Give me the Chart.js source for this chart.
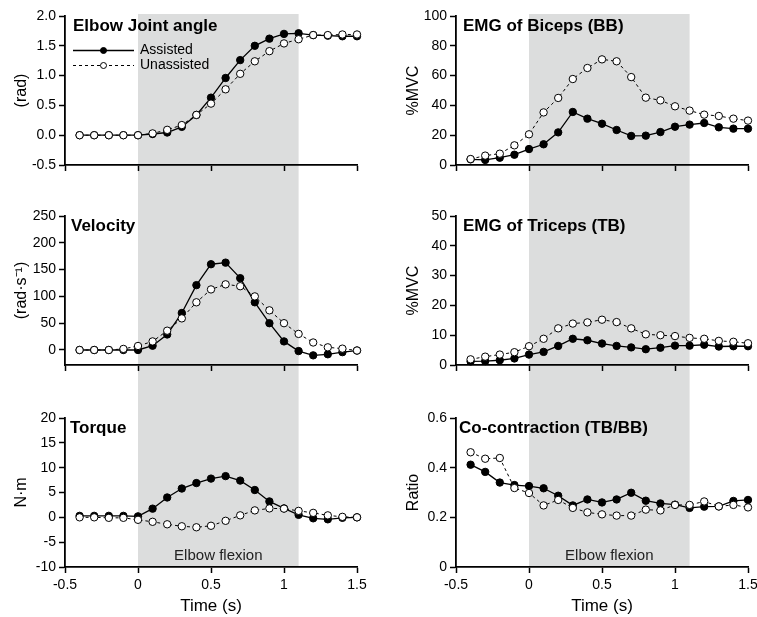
<!DOCTYPE html>
<html><head><meta charset="utf-8">
<script src="https://cdn.jsdelivr.net/npm/chart.js@4.4.1/dist/chart.umd.min.js"></script>
<style>
html,body{margin:0;padding:0;background:#fff;width:757px;height:617px;overflow:hidden;}
canvas{position:absolute;display:block;}
</style></head><body>
<canvas id="p1" width="378" height="200" style="left:0;top:0"></canvas>
<canvas id="p2" width="379" height="200" style="left:378px;top:0"></canvas>
<canvas id="p3" width="378" height="200" style="left:0;top:200px"></canvas>
<canvas id="p4" width="379" height="200" style="left:378px;top:200px"></canvas>
<canvas id="p5" width="378" height="217" style="left:0;top:400px"></canvas>
<canvas id="p6" width="379" height="217" style="left:378px;top:400px"></canvas>
<script>
// ---------- data ----------
const time = [-0.4,-0.3,-0.2,-0.1,0,0.1,0.2,0.3,0.4,0.5,0.6,0.7,0.8,0.9,1.0,1.1,1.2,1.3,1.4,1.5];
const flexionWindow = [0, 1.1];

const angleAssisted   = [0,0,0,0,0,0.02,0.045,0.14,0.34,0.63,0.96,1.26,1.50,1.62,1.70,1.71,1.68,1.67,1.66,1.66];
const angleUnassisted = [0,0,0,0,0,0.03,0.09,0.17,0.34,0.53,0.77,1.03,1.24,1.41,1.54,1.61,1.68,1.68,1.69,1.69];

const velocityAssisted   = [0,0,0,0,0,8,29,69,121,160,163,134,89,50,16,-2,-10,-8,-4,-1];
const velocityUnassisted = [0,0,0,2,7.5,16,36,59,89,113,122.5,119,100,74,50,30,14,5,2.5,-1];

const torqueAssisted   = [0.3,0.3,0.3,0.3,0.2,1.75,4.0,5.8,6.9,7.8,8.3,7.4,5.5,3.2,1.8,0.5,-0.2,-0.4,-0.1,0];
const torqueUnassisted = [0,0,-0.1,-0.1,-0.5,-0.9,-1.4,-1.8,-2.0,-1.7,-0.7,0.4,1.4,1.8,1.75,1.3,0.9,0.4,0.1,0];

const bbAssisted   = [3.8,3.4,4.9,6.9,10.7,13.9,21.9,35.6,31.1,27.7,23.5,19.5,19.7,22.1,25.7,27.1,28.2,25.3,24.4,24.4];
const bbUnassisted = [4.0,6.3,7.6,13.2,20.6,35.3,45,57.7,65.1,70.9,69.6,59,45.2,43.4,39.4,36.5,33.8,32.9,31.1,29.8];

const tbAssisted   = [1.2,1.3,1.6,2.2,3.5,4.4,6.4,8.8,8.3,7.2,6.4,5.9,5.3,5.8,6.5,6.5,6.8,6.2,6.3,6.3];
const tbUnassisted = [1.9,2.8,3.5,4.3,6.3,8.8,12.3,13.9,14.3,15.2,14.4,12.3,10.3,10.0,9.7,9.1,8.8,8.1,7.8,7.3];

const ratioAssisted   = [0.412,0.383,0.340,0.330,0.326,0.317,0.287,0.248,0.272,0.260,0.272,0.299,0.267,0.256,0.251,0.238,0.243,0.244,0.266,0.270];
const ratioUnassisted = [0.462,0.436,0.439,0.318,0.298,0.248,0.270,0.238,0.220,0.212,0.207,0.207,0.231,0.228,0.250,0.250,0.264,0.244,0.250,0.240];

// ticks
const timeTicks = [-0.5,0,0.5,1,1.5];
const timeTickLabels = ['-0.5','0','0.5','1','1.5'];
const angleTicks = [-0.5,0,0.5,1,1.5,2];
const angleTickLabels = ['-0.5','0.0','0.5','1.0','1.5','2.0'];
const velocityTicks = [0,50,100,150,200,250];
const velocityTickLabels = ['0','50','100','150','200','250'];
const torqueTicks = [-10,-5,0,5,10,15,20];
const torqueTickLabels = ['-10','-5','0','5','10','15','20'];
const bbTicks = [0,20,40,60,80,100];
const bbTickLabels = ['0','20','40','60','80','100'];
const tbTicks = [0,10,20,30,40,50];
const tbTickLabels = ['0','10','20','30','40','50'];
const ratioTicks = [0,0.2,0.4,0.6];
const ratioTickLabels = ['0','0.2','0.4','0.6'];

// ---------- drawing ----------
const FONT = "'Liberation Sans', Arial, sans-serif";
Chart.defaults.font.family = FONT;
Chart.defaults.color = '#000';

const decor = {
  id: 'decor',
  beforeDraw(chart, args, o) {
    const {ctx, chartArea, scales} = chart;
    const x0 = scales.x.getPixelForValue(flexionWindow[0]);
    const x1 = scales.x.getPixelForValue(flexionWindow[1]);
    const top = o.shadeTop === 'area' ? chartArea.top - 2 : 0;
    const bottom = o.shadeBottom === 'area' ? chartArea.bottom : chart.height;
    ctx.save();
    ctx.fillStyle = '#dcdddd';
    ctx.fillRect(x0, top, x1 - x0, bottom - top);
    ctx.restore();
  },
  afterDraw(chart, args, o) {
    const {ctx, chartArea, scales} = chart;
    ctx.save();
    ctx.fillStyle = '#000';
    ctx.font = "bold 17px " + FONT;
    ctx.textBaseline = 'middle';
    ctx.textAlign = 'left';
    ctx.fillText(o.title, chartArea.left + o.titleDx, chartArea.top + 10.5);
    if (o.flexLabel) {
      ctx.font = "15px " + FONT;
      ctx.fillStyle = '#222';
      ctx.textAlign = 'center';
      const xc = (scales.x.getPixelForValue(flexionWindow[0]) + scales.x.getPixelForValue(flexionWindow[1])) / 2;
      ctx.fillText('Elbow flexion', xc, chartArea.bottom - 11);
    }
    if (o.legend) {
      const items = [
        {label:'Assisted', dash:[], fill:'#000', y:50.5, w:1.3},
        {label:'Unassisted', dash:[3,3], fill:'#fff', y:65.5, w:1}
      ];
      const lx0 = chartArea.left + 8, lx1 = chartArea.left + 69, mx = chartArea.left + 38.5;
      items.forEach(it => {
        ctx.strokeStyle = '#000';
        ctx.lineWidth = it.w;
        ctx.setLineDash(it.dash);
        ctx.beginPath(); ctx.moveTo(lx0, it.y); ctx.lineTo(lx1, it.y); ctx.stroke();
        ctx.setLineDash([]);
        ctx.lineWidth = 1;
        ctx.fillStyle = it.fill;
        ctx.beginPath(); ctx.arc(mx, it.y, 3, 0, Math.PI*2); ctx.fill(); ctx.stroke();
        ctx.fillStyle = '#000';
        ctx.font = "14px " + FONT;
        ctx.textAlign = 'left';
        ctx.fillText(it.label, chartArea.left + 75, it.y);
      });
    }
    ctx.restore();
  }
};

function panel(id, p) {
  const mk = (vals) => time.map((t, i) => ({x: t, y: vals[i]}));
  return new Chart(document.getElementById(id), {
    type: 'line',
    data: {
      datasets: [
        {label:'Unassisted', data: mk(p.un), borderColor:'#000', borderWidth:1, borderDash:[3,3],
         pointRadius:3.7, pointBackgroundColor:'#fff', pointBorderColor:'#000', pointBorderWidth:1, clip:false, tension:0},
        {label:'Assisted', data: mk(p.as), borderColor:'#000', borderWidth:1.3,
         pointRadius:3.7, pointBackgroundColor:'#000', pointBorderColor:'#000', pointBorderWidth:1, clip:false, tension:0}
      ]
    },
    options: {
      responsive: false, animation: false, events: [],
      layout: {padding: {top: p.padTop, right: p.padRight, left: 0, bottom: 0}},
      plugins: {
        legend: {display:false}, tooltip: {enabled:false},
        decor: {title: p.title, titleDx: p.titleDx, shadeTop: p.shadeTop, shadeBottom: p.shadeBottom, flexLabel: p.flexLabel, legend: p.legend}
      },
      scales: {
        x: {
          type:'linear', min:-0.5, max:1.5,
          afterBuildTicks: s => { s.ticks = timeTicks.map(v => ({value:v})); },
          afterFit: s => { s.height = p.xH; s.paddingLeft = 0; s.paddingRight = 0; },
          grid: {drawOnChartArea:false, drawTicks:true, tickLength:6, tickWidth:1.5, color:'#000'},
          border: {display:true, color:'#000', width:1.8},
          ticks: {callback: (v, i) => p.showX ? timeTickLabels[i] : '', font:{size:14}, color:'#000', padding:4, maxRotation:0, autoSkip:false},
          title: {display: p.showX, text:'Time (s)', font:{size:17}, color:'#000', padding:{top:0, bottom:0}}
        },
        y: {
          type:'linear', min:p.ymin, max:p.ymax,
          afterBuildTicks: s => { s.ticks = p.ticks.map(v => ({value:v})); },
          afterFit: s => { s.width = p.yW; s.paddingTop = 0; s.paddingBottom = 0; },
          grid: {drawOnChartArea:false, drawTicks:true, tickLength:6, tickWidth:1.5, color:'#000'},
          border: {display:true, color:'#000', width:1.8},
          ticks: {callback: (v, i) => p.tickLabels[i], font:{size:14}, color:'#000', padding:3, autoSkip:false},
          title: {display:true, text:p.yTitle, font:{size:16}, color:'#000', padding:{top:p.yTitlePad, bottom:0}}
        }
      }
    },
    plugins: [decor]
  });
}

const L = {yW:65, padRight:21, yTitlePad:12};
const R = {yW:78, padRight:9, yTitlePad:25.5};
const row1 = {padTop:16, xH:35, shadeTop:'area', shadeBottom:'canvas', showX:false};
const row2 = {padTop:16, xH:35, shadeTop:'canvas', shadeBottom:'canvas', showX:false};
const row3 = {padTop:18, xH:50, shadeTop:'canvas', shadeBottom:'area', showX:true, flexLabel:true};

panel('p1', Object.assign({}, L, row1, {as:angleAssisted, un:angleUnassisted, ymin:-0.5, ymax:2, ticks:angleTicks, tickLabels:angleTickLabels, yTitle:'(rad)', title:'Elbow Joint angle', titleDx:8, legend:true}));
panel('p2', Object.assign({}, R, row1, {as:bbAssisted, un:bbUnassisted, ymin:0, ymax:100, ticks:bbTicks, tickLabels:bbTickLabels, yTitle:'%MVC', title:'EMG of Biceps (BB)', titleDx:7}));
panel('p3', Object.assign({}, L, row2, {as:velocityAssisted, un:velocityUnassisted, ymin:-28, ymax:250, ticks:velocityTicks, tickLabels:velocityTickLabels, yTitle:'(rad·s⁻¹)', title:'Velocity', titleDx:6}));
panel('p4', Object.assign({}, R, row2, {as:tbAssisted, un:tbUnassisted, ymin:0, ymax:50, ticks:tbTicks, tickLabels:tbTickLabels, yTitle:'%MVC', title:'EMG of Triceps (TB)', titleDx:7}));
panel('p5', Object.assign({}, L, row3, {as:torqueAssisted, un:torqueUnassisted, ymin:-10, ymax:20, ticks:torqueTicks, tickLabels:torqueTickLabels, yTitle:'N·m', title:'Torque', titleDx:5}));
panel('p6', Object.assign({}, R, row3, {as:ratioAssisted, un:ratioUnassisted, ymin:0, ymax:0.6, ticks:ratioTicks, tickLabels:ratioTickLabels, yTitle:'Ratio', title:'Co-contraction (TB/BB)', titleDx:3}));
</script>
</body></html>
